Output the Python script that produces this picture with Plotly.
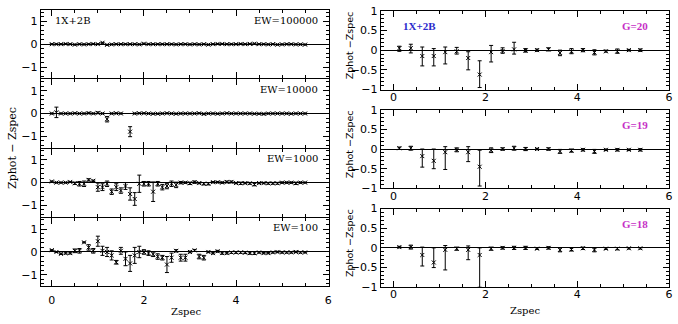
import plotly.graph_objects as go

W, H = 678, 324

# ---------------- data: left column (EW panels) ----------------
zspec_left = [round(0.1 * i, 1) for i in range(56)]

ew_labels = ["EW=100000", "EW=10000", "EW=1000", "EW=100"]

ew100000_y = [0.0, 0.0, 0.0, 0.01, 0.0, -0.02, 0.0, -0.01, 0.0, 0.01,
              0.0, 0.06, -0.03, -0.01, 0.0, 0.0, 0.0, 0.0, 0.0, -0.01,
              0.02, 0.0, 0.0, 0.0, 0.0, 0.0, 0.0, -0.01, 0.0, 0.0,
              -0.01, 0.0, -0.01, 0.0, -0.02, 0.0, 0.01, 0.01, 0.0, 0.0,
              0.0, 0.01, 0.0, 0.01, 0.02, 0.0, 0.0, -0.01, 0.0, -0.02,
              -0.01, 0.0, 0.0, -0.01, -0.01, -0.02]
ew100000_err = [0.02] * 56

ew10000_y = [0.0, 0.05, 0.0, 0.0, 0.0, 0.01, 0.0, 0.0, 0.02, 0.0,
             0.03, 0.0, -0.25, 0.0, 0.01, 0.0, None, -0.8, 0.0, 0.01,
             0.01, 0.0, -0.01, -0.01, 0.0, 0.01, 0.0, -0.01, 0.0, 0.0,
             0.0, 0.0, 0.01, -0.02, 0.0, 0.0, -0.01, 0.0, 0.01, 0.0,
             0.0, 0.0, 0.0, 0.0, -0.01, -0.01, -0.02, 0.0, 0.0, 0.0,
             0.0, 0.0, -0.01, 0.0, 0.0, 0.0]
ew10000_err = [0.02, 0.23, 0.02, 0.02, 0.02, 0.02, 0.02, 0.02, 0.03, 0.02,
               0.04, 0.02, 0.12, 0.02, 0.02, 0.02, 0.0, 0.22, 0.02, 0.02,
               0.02, 0.02, 0.02, 0.02, 0.02, 0.02, 0.02, 0.02, 0.02, 0.02,
               0.02, 0.02, 0.02, 0.03, 0.02, 0.02, 0.02, 0.02, 0.02, 0.02,
               0.02, 0.02, 0.02, 0.02, 0.02, 0.02, 0.03, 0.02, 0.02, 0.02,
               0.02, 0.02, 0.02, 0.02, 0.02, 0.02]

ew1000_y = [0.05, 0.0, 0.0, 0.0, 0.03, -0.03, -0.05, -0.05, 0.12, 0.08,
            -0.2, -0.2, -0.05, -0.4, -0.2, -0.35, -0.15, -0.5, -0.72, -0.05,
            -0.05, -0.05, -0.4, -0.05, -0.2, -0.15, -0.05, -0.1, 0.0, 0.0,
            -0.03, 0.02, -0.02, -0.05, -0.05, 0.02, 0.02, 0.0, 0.03, 0.03,
            -0.02, -0.03, -0.02, -0.03, -0.08, -0.02, -0.02, -0.03, -0.03, -0.03,
            0.0, 0.0, 0.0, -0.03, 0.0, 0.0]
ew1000_err = [0.02, 0.02, 0.02, 0.02, 0.02, 0.05, 0.1, 0.12, 0.05, 0.03,
              0.18, 0.15, 0.12, 0.12, 0.15, 0.12, 0.15, 0.27, 0.28, 0.38,
              0.1, 0.1, 0.43, 0.1, 0.12, 0.12, 0.12, 0.12, 0.05, 0.03,
              0.05, 0.05, 0.03, 0.05, 0.05, 0.03, 0.03, 0.03, 0.04, 0.04,
              0.03, 0.05, 0.03, 0.04, 0.06, 0.03, 0.03, 0.04, 0.04, 0.04,
              0.03, 0.03, 0.03, 0.05, 0.03, 0.02]

ew100_y = [0.08, 0.0, -0.08, -0.05, -0.05, 0.05, 0.05, 0.42, 0.2, 0.05,
           0.47, 0.05, 0.0, -0.15, -0.45, 0.05, -0.3, -0.5, -0.15, 0.0,
           0.0, -0.05, -0.1, -0.2, -0.25, -0.55, -0.25, 0.05, -0.25, -0.25,
           0.0, 0.07, -0.2, -0.25, 0.0, -0.05, 0.03, -0.05, -0.05, -0.02,
           -0.02, -0.02, -0.03, -0.05, -0.05, -0.02, -0.05, -0.05, -0.02, 0.0,
           -0.02, -0.02, -0.02, 0.0, -0.02, -0.02]
ew100_err = [0.02, 0.02, 0.03, 0.04, 0.04, 0.08, 0.1, 0.02, 0.12, 0.1,
             0.22, 0.2, 0.2, 0.2, 0.08, 0.15, 0.3, 0.35, 0.35, 0.25,
             0.1, 0.1, 0.1, 0.12, 0.1, 0.35, 0.2, 0.05, 0.15, 0.15,
             0.04, 0.04, 0.1, 0.1, 0.03, 0.04, 0.04, 0.05, 0.04, 0.04,
             0.04, 0.04, 0.04, 0.05, 0.06, 0.03, 0.03, 0.03, 0.03, 0.03,
             0.03, 0.03, 0.03, 0.03, 0.03, 0.02]

left_y = [ew100000_y, ew10000_y, ew1000_y, ew100_y]
left_err = [ew100000_err, ew10000_err, ew1000_err, ew100_err]

# ---------------- data: right column (G panels) ----------------
zspec_right = [0.125 + 0.25 * i for i in range(22)]
g_labels = ["G=20", "G=19", "G=18"]

g20_y = [0.05, 0.05, -0.15, -0.15, -0.05, -0.03, -0.2, -0.62, -0.05, -0.02, 0.02,
         -0.01, 0.0, 0.02, -0.07, -0.03, 0.0, -0.06, -0.03, -0.03, 0.0, 0.0]
g20_hi = [0.1, 0.15, 0.08, 0.04, 0.08, 0.07, -0.04, -0.27, 0.12, 0.06, 0.2,
          0.04, 0.03, 0.06, 0.0, 0.04, 0.04, 0.01, 0.0, 0.03, 0.02, 0.03]
g20_lo = [-0.03, -0.07, -0.4, -0.4, -0.35, -0.1, -0.5, -0.95, -0.3, -0.08, -0.1,
          -0.05, -0.03, -0.02, -0.14, -0.09, -0.04, -0.12, -0.05, -0.08, -0.02, -0.03]

g19_y = [0.02, 0.02, -0.18, -0.3, -0.08, -0.02, -0.08, -0.45, -0.03, 0.0, 0.02,
         0.0, 0.0, 0.0, -0.06, -0.04, -0.02, -0.06, -0.02, -0.02, -0.02, -0.02]
g19_hi = [0.05, 0.07, 0.0, 0.0, 0.06, 0.03, 0.06, -0.03, 0.03, 0.03, 0.07,
          0.04, 0.02, 0.03, -0.01, 0.0, 0.01, -0.01, 0.0, 0.01, 0.0, 0.01]
g19_lo = [-0.01, -0.03, -0.46, -0.5, -0.52, -0.07, -0.32, -0.94, -0.09, -0.03, -0.03,
          -0.04, -0.02, -0.03, -0.11, -0.08, -0.05, -0.11, -0.04, -0.05, -0.04, -0.05]

g18_y = [0.02, 0.02, -0.18, -0.37, -0.05, -0.02, -0.05, -0.18, -0.02, 0.0, 0.0,
         0.0, -0.02, 0.0, -0.05, -0.04, -0.01, -0.05, -0.02, -0.02, -0.01, -0.01]
g18_hi = [0.04, 0.07, 0.02, 0.0, 0.06, 0.02, 0.05, 0.0, 0.02, 0.03, 0.04,
          0.04, 0.0, 0.03, 0.0, 0.0, 0.02, 0.0, 0.0, 0.01, 0.01, 0.01]
g18_lo = [0.0, -0.03, -0.46, -0.5, -0.56, -0.06, -0.3, -1.0, -0.06, -0.03, -0.04,
          -0.04, -0.04, -0.03, -0.1, -0.08, -0.04, -0.1, -0.04, -0.05, -0.03, -0.03]

right_y = [g20_y, g19_y, g18_y]
right_hi = [g20_hi, g19_hi, g18_hi]
right_lo = [g20_lo, g19_lo, g18_lo]

# ---------------- layout helpers ----------------
def fx(px):
    return px / W

def fy(py):
    return 1 - py / H

TICKFONT = dict(family="DejaVu Sans", size=11, color="black")
SERIF = "DejaVu Serif"

left_px = (41, 331)
left_rows = [(4, 75.5), (76.5, 147.5), (148.5, 219.5), (220.5, 292)]
right_px = (383, 673)
right_rows = [(5, 87), (108, 190), (211, 293)]

fig = go.Figure()
layout = dict(width=W, height=H, margin=dict(l=0, r=0, t=0, b=0),
              paper_bgcolor="white", plot_bgcolor="white", showlegend=False)

def xaxis_cfg(dom, rng, anchor, labels, standoff):
    return dict(domain=dom, range=rng, anchor=anchor, showline=True, linecolor="black",
                linewidth=1, mirror="allticks", ticks="inside", ticklen=6, tickwidth=1,
                tickcolor="black", tickmode="array", tickvals=[0, 2, 4, 6],
                ticktext=["0", "2", "4", "6"], showticklabels=labels,
                ticklabelstandoff=standoff,
                tickfont=TICKFONT, showgrid=False, zeroline=False,
                minor=dict(ticks="inside", ticklen=3, tickcolor="black", dtick=0.5,
                           tick0=0, showgrid=False))

def yaxis_cfg(dom, rng, anchor, vals, texts, mdt):
    return dict(domain=dom, range=rng, anchor=anchor, showline=True, linecolor="black",
                linewidth=1, mirror="allticks", ticks="inside", ticklen=6, tickwidth=1,
                tickcolor="black", tickmode="array", tickvals=vals, ticktext=texts,
                tickfont=TICKFONT, showgrid=False, zeroline=True, zerolinecolor="black",
                zerolinewidth=1,
                minor=dict(ticks="inside", ticklen=3, tickcolor="black", dtick=mdt,
                           tick0=0, showgrid=False))

marker = dict(symbol="x-thin", size=4, color="black", line=dict(width=1, color="black"))
annotations = []

# left column
for i, (top, bot) in enumerate(left_rows):
    n = i + 1
    xs = "x" if n == 1 else f"x{n}"
    ys = "y" if n == 1 else f"y{n}"
    fig.add_trace(go.Scatter(x=zspec_left, y=left_y[i], mode="markers", marker=marker,
                             xaxis=xs, yaxis=ys,
                             error_y=dict(type="data", array=left_err[i], color="black",
                                          thickness=1, width=2)))
    layout["xaxis" if n == 1 else f"xaxis{n}"] = xaxis_cfg(
        [fx(left_px[0]), fx(left_px[1])], [-0.24, 6.02], ys, n == 4, 4)
    layout["yaxis" if n == 1 else f"yaxis{n}"] = yaxis_cfg(
        [fy(bot), fy(top)], [-1.5, 1.5], xs, [-1, 0, 1], ["\u22121", "0", "1"], 0.2)
    annotations.append(dict(x=fx(322), y=fy(4 + 72 * i + 11), xref="paper", yref="paper",
                            text=ew_labels[i], showarrow=False, xanchor="right",
                            yanchor="middle", font=dict(family=SERIF, size=10, color="black")))

annotations.append(dict(x=fx(53), y=fy(15), xref="paper", yref="paper", text="1X+2B",
                        showarrow=False, xanchor="left", yanchor="middle",
                        font=dict(family=SERIF, size=10, color="black")))

# right column
for j, (top, bot) in enumerate(right_rows):
    n = j + 5
    xs, ys = f"x{n}", f"y{n}"
    yv = right_y[j]
    ep = [h - v for h, v in zip(right_hi[j], yv)]
    em = [v - l for l, v in zip(right_lo[j], yv)]
    fig.add_trace(go.Scatter(x=zspec_right, y=yv, mode="markers", marker=marker,
                             xaxis=xs, yaxis=ys,
                             error_y=dict(type="data", symmetric=False, array=ep,
                                          arrayminus=em, color="black",
                                          thickness=1, width=2)))
    layout[f"xaxis{n}"] = xaxis_cfg([fx(right_px[0]), fx(right_px[1])], [-0.28, 6.0],
                                   ys, True, -3)
    layout[f"yaxis{n}"] = yaxis_cfg([fy(bot), fy(top)], [-1, 1], xs,
                                   [-1, -0.5, 0, 0.5, 1],
                                   ["\u22121", "\u22120.5", "0", "0.5", "1"], 0.1)
    annotations.append(dict(x=fx(654), y=fy(top + 16), xref="paper", yref="paper",
                            text="<b>" + g_labels[j] + "</b>", showarrow=False,
                            xanchor="right", yanchor="middle",
                            font=dict(family="Liberation Serif", size=11, color="#c62ec6")))
    annotations.append(dict(x=fx(351), y=fy((top + bot) / 2 - 5), xref="paper", yref="paper",
                            text="Zphot \u2212Zspec", showarrow=False, textangle=-90,
                            xanchor="center", yanchor="middle",
                            font=dict(family="DejaVu Sans", size=9.5, color="black")))

annotations.append(dict(x=fx(403), y=fy(21), xref="paper", yref="paper", text="<b>1X+2B</b>",
                        showarrow=False, xanchor="left", yanchor="middle",
                        font=dict(family="Liberation Serif", size=11, color="#2a2acc")))

# axis titles
annotations.append(dict(x=fx(12), y=fy(148), xref="paper", yref="paper",
                        text="Zphot \u2212 Zspec", showarrow=False, textangle=-90,
                        xanchor="center", yanchor="middle",
                        font=dict(family=SERIF, size=11, color="black")))
annotations.append(dict(x=fx(187), y=fy(318), xref="paper", yref="paper", text="Zspec",
                        showarrow=False, xanchor="center", yanchor="middle",
                        font=dict(family=SERIF, size=10, color="black")))
annotations.append(dict(x=fx(528), y=fy(317), xref="paper", yref="paper", text="Zspec",
                        showarrow=False, xanchor="center", yanchor="middle",
                        font=dict(family=SERIF, size=10, color="black")))

layout["annotations"] = annotations
fig.update_layout(**layout)
fig.write_html("out.html")
